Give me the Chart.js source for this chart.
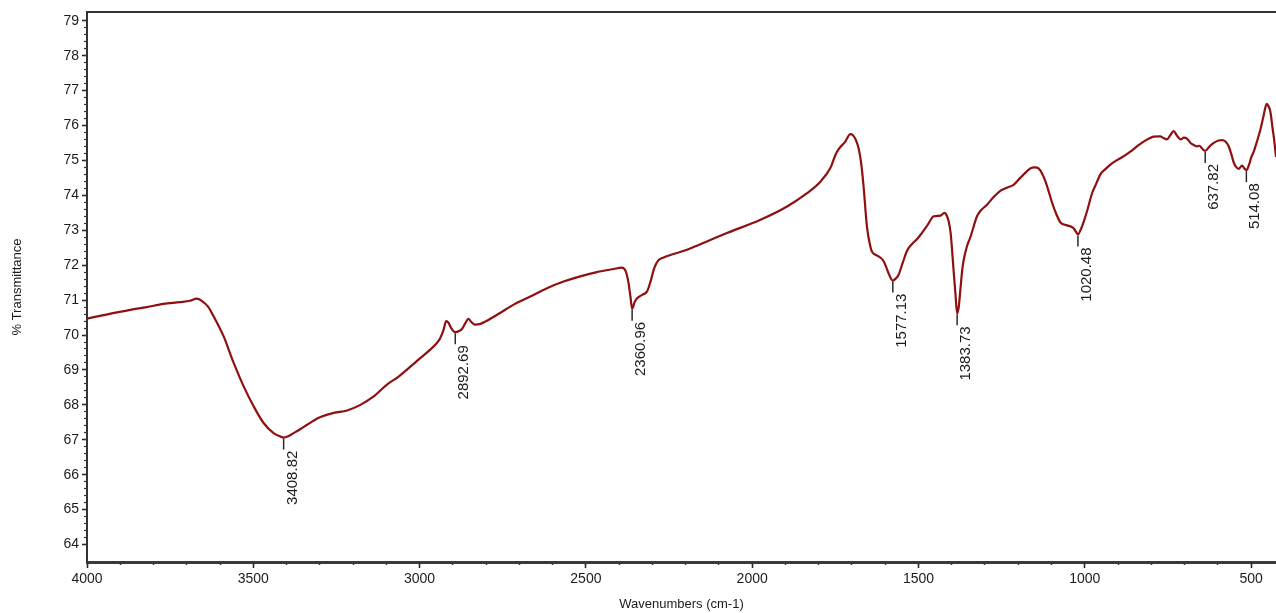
<!DOCTYPE html>
<html>
<head>
<meta charset="utf-8">
<title>FTIR spectrum</title>
<script src="https://cdn.jsdelivr.net/npm/chart.js@4.4.1/dist/chart.umd.min.js"></script>
<style>
  html, body { margin: 0; padding: 0; background: #ffffff; }
  #wrap { width: 1276px; height: 613px; position: relative; }
</style>
</head>
<body>
<div id="wrap"><canvas id="spectrum" width="1276" height="613"></canvas></div>
<script>
// Wavenumber axis (cm-1), descending as recorded
const wavenumbers = [
  4000, 3950, 3870, 3820, 3770, 3720, 3690, 3670, 3655, 3635, 3619, 3600, 3589, 3559, 3529, 3499,
  3469, 3439, 3420, 3408.82, 3395, 3379, 3358, 3338, 3318, 3298, 3258, 3218, 3178, 3138, 3098, 3063,
  2998, 2968, 2950, 2938, 2928, 2920, 2913, 2905, 2892.69, 2880, 2872, 2862, 2853, 2845, 2835, 2817,
  2767, 2717, 2667, 2617, 2567, 2517, 2467, 2417, 2392, 2380, 2372, 2366, 2360.96, 2353, 2346, 2331,
  2316, 2305, 2295, 2283, 2266, 2246, 2196, 2161, 2076, 1975, 1895, 1835, 1795, 1765, 1750, 1740,
  1720, 1705, 1697, 1690, 1680, 1672, 1665, 1655, 1645, 1640, 1630, 1620, 1605, 1590, 1583, 1577.13,
  1568, 1560, 1548, 1534, 1520, 1504, 1490, 1474, 1454, 1434, 1422, 1414, 1409, 1403, 1399, 1394,
  1389, 1383.73, 1379, 1374, 1368, 1364, 1354, 1344, 1324, 1314, 1294, 1274, 1254, 1234, 1214, 1194,
  1175, 1164, 1150, 1139, 1128, 1119, 1108, 1098, 1085, 1073, 1053, 1040, 1033, 1026, 1020.48, 1012,
  1003, 993, 978, 968, 953, 938, 923, 908, 893, 878, 863, 843, 823, 808, 793, 773,
  763, 753, 743, 733, 722, 712, 702, 692, 682, 672, 662, 655, 648, 637.82, 625, 612,
  598, 587, 577, 567, 560, 552, 544, 537, 531, 527, 521, 514.08, 506, 499, 492, 482,
  472, 463, 456, 453, 449, 442, 435, 430, 425
];

// % Transmittance at each wavenumber
const transmittance = [
  70.47, 70.57, 70.72, 70.80, 70.89, 70.94, 70.98, 71.04, 70.98, 70.80, 70.53, 70.18, 69.96, 69.20, 68.53, 67.96,
  67.48, 67.19, 67.10, 67.06, 67.10, 67.19, 67.31, 67.43, 67.55, 67.65, 67.77, 67.84, 68.00, 68.24, 68.58, 68.81,
  69.34, 69.58, 69.75, 69.91, 70.15, 70.40, 70.35, 70.20, 70.08, 70.12, 70.18, 70.35, 70.46, 70.38, 70.30, 70.32,
  70.58, 70.87, 71.10, 71.34, 71.53, 71.68, 71.80, 71.89, 71.93, 71.82, 71.50, 71.10, 70.75, 70.95, 71.05, 71.15,
  71.25, 71.55, 71.90, 72.13, 72.22, 72.29, 72.44, 72.58, 72.92, 73.30, 73.68, 74.06, 74.39, 74.78, 75.15, 75.32,
  75.54, 75.75, 75.72, 75.62, 75.35, 74.90, 74.25, 73.11, 72.55, 72.39, 72.30, 72.25, 72.12, 71.77, 71.62, 71.56,
  71.62, 71.72, 72.05, 72.42, 72.60, 72.75, 72.92, 73.13, 73.40, 73.42, 73.50, 73.40, 73.25, 72.90, 72.44, 71.80,
  71.20, 70.62, 70.80, 71.30, 71.90, 72.15, 72.55, 72.80, 73.40, 73.55, 73.73, 73.95, 74.13, 74.22, 74.30, 74.50,
  74.68, 74.77, 74.80, 74.77, 74.62, 74.42, 74.10, 73.78, 73.45, 73.22, 73.14, 73.10, 73.05, 72.95, 72.88, 73.02,
  73.25, 73.55, 74.06, 74.28, 74.60, 74.75, 74.88, 74.98, 75.06, 75.15, 75.25, 75.40, 75.54, 75.62, 75.68, 75.69,
  75.64, 75.60, 75.72, 75.84, 75.70, 75.60, 75.65, 75.62, 75.50, 75.44, 75.40, 75.42, 75.35, 75.27, 75.40, 75.50,
  75.57, 75.58, 75.54, 75.40, 75.20, 74.94, 74.80, 74.76, 74.82, 74.85, 74.78, 74.72, 74.88, 75.10, 75.25, 75.55,
  75.88, 76.25, 76.55, 76.62, 76.58, 76.40, 75.90, 75.55, 75.10
];

// Labelled absorption bands (cm-1)
const peakWavenumbers = [3408.82, 2892.69, 2360.96, 1577.13, 1383.73, 1020.48, 637.82, 514.08];
const peakLabels = peakWavenumbers.map(w => w.toFixed(2));

// Axis ticks
const xMajorTicks = [4000, 3500, 3000, 2500, 2000, 1500, 1000, 500];
const xMinorTicks = [4000, 3900, 3800, 3700, 3600, 3500, 3400, 3300, 3200, 3100, 3000, 2900, 2800, 2700,
  2600, 2500, 2400, 2300, 2200, 2100, 2000, 1900, 1800, 1700, 1600, 1500, 1400, 1300, 1200, 1100, 1000,
  900, 800, 700, 600, 500];
const yMajorTicks = [64, 65, 66, 67, 68, 69, 70, 71, 72, 73, 74, 75, 76, 77, 78, 79];
const yMinorTicks = [];
for (let k = 0; k <= 75; k++) yMinorTicks.push(Math.round((64 + k * 0.2) * 10) / 10);

const X_MIN = 425, X_MAX = 4000;
const Y_MIN = 63.5, Y_MAX = 79.25;

const FONT = '"Liberation Sans", Arial, Helvetica, sans-serif';
const INK = '#1c1c1c';

// Short marker below each band minimum plus its vertical wavenumber label
const peakMarkers = {
  id: 'peakMarkers',
  afterDatasetsDraw(chart) {
    const { ctx, scales: { x, y } } = chart;
    ctx.save();
    ctx.strokeStyle = '#2a2a2a';
    ctx.lineWidth = 1.5;
    ctx.fillStyle = INK;
    ctx.font = '15px ' + FONT;
    peakWavenumbers.forEach((w, i) => {
      const idx = wavenumbers.indexOf(w);
      const px = x.getPixelForValue(w);
      const py = y.getPixelForValue(transmittance[idx]);
      ctx.beginPath();
      ctx.moveTo(px, py + 1);
      ctx.lineTo(px, py + 12);
      ctx.stroke();
      ctx.save();
      ctx.translate(px + 13, py + 13);
      ctx.rotate(-Math.PI / 2);
      ctx.textAlign = 'right';
      ctx.textBaseline = 'alphabetic';
      ctx.fillText(peakLabels[i], 0, 0);
      ctx.restore();
    });
    ctx.restore();
  }
};

const setTicks = list => scale => { scale.ticks = list.map(v => ({ value: v })); };

new Chart(document.getElementById('spectrum'), {
  type: 'line',
  data: {
    datasets: [{
      data: wavenumbers.map((w, i) => ({ x: w, y: transmittance[i] })),
      borderColor: '#8e1010',
      borderWidth: 2.2,
      pointRadius: 0,
      cubicInterpolationMode: 'monotone',
      fill: false
    }]
  },
  options: {
    responsive: false,
    animation: false,
    events: [],
    layout: { padding: { top: 12, right: 0, bottom: 0, left: 0 } },
    plugins: { legend: { display: false }, tooltip: { enabled: false } },
    scales: {
      x: {
        type: 'linear', position: 'bottom', reverse: true, min: X_MIN, max: X_MAX, weight: 1,
        afterBuildTicks: setTicks(xMajorTicks),
        afterFit: s => { s.height = 51; },
        ticks: { color: INK, font: { family: FONT, size: 14 }, padding: 3, maxRotation: 0,
                 callback: v => String(v) },
        grid: { drawOnChartArea: false, drawTicks: true, tickLength: 6, tickColor: '#222', tickWidth: 1.5 },
        border: { display: true, color: '#3a3a3a', width: 3 },
        title: { display: true, text: 'Wavenumbers (cm-1)', color: INK,
                 font: { family: FONT, size: 13 }, padding: { top: 0, bottom: 1 } }
      },
      xMinor: {
        type: 'linear', position: 'bottom', reverse: true, min: X_MIN, max: X_MAX, weight: 0,
        afterBuildTicks: setTicks(xMinorTicks),
        afterFit: s => { s.height = 0; },
        ticks: { display: false },
        grid: { drawOnChartArea: false, drawTicks: true, tickLength: 3, tickColor: '#333', tickWidth: 1.5 },
        border: { display: false }
      },
      xTop: {
        type: 'linear', position: 'top', reverse: true, min: X_MIN, max: X_MAX,
        afterFit: s => { s.height = 0; },
        ticks: { display: false },
        grid: { display: false, drawTicks: false },
        border: { display: true, color: '#333', width: 2 }
      },
      y: {
        type: 'linear', position: 'left', min: Y_MIN, max: Y_MAX, weight: 1,
        afterBuildTicks: setTicks(yMajorTicks),
        afterFit: s => { s.width = 87; },
        ticks: { color: INK, font: { family: FONT, size: 14 }, padding: 3,
                 callback: v => String(v) },
        grid: { drawOnChartArea: false, drawTicks: true, tickLength: 5, tickColor: '#222', tickWidth: 1.5 },
        border: { display: true, color: '#333', width: 2 },
        title: { display: true, text: '% Transmittance', color: INK,
                 font: { family: FONT, size: 13 }, padding: { top: 10, bottom: 0 } }
      },
      yMinor: {
        type: 'linear', position: 'left', min: Y_MIN, max: Y_MAX, weight: 0,
        afterBuildTicks: setTicks(yMinorTicks),
        afterFit: s => { s.width = 0; },
        ticks: { display: false },
        grid: { drawOnChartArea: false, drawTicks: true, tickLength: 3, tickColor: '#333', tickWidth: 1.2 },
        border: { display: false }
      }
    }
  },
  plugins: [peakMarkers]
});
</script>
</body>
</html>
